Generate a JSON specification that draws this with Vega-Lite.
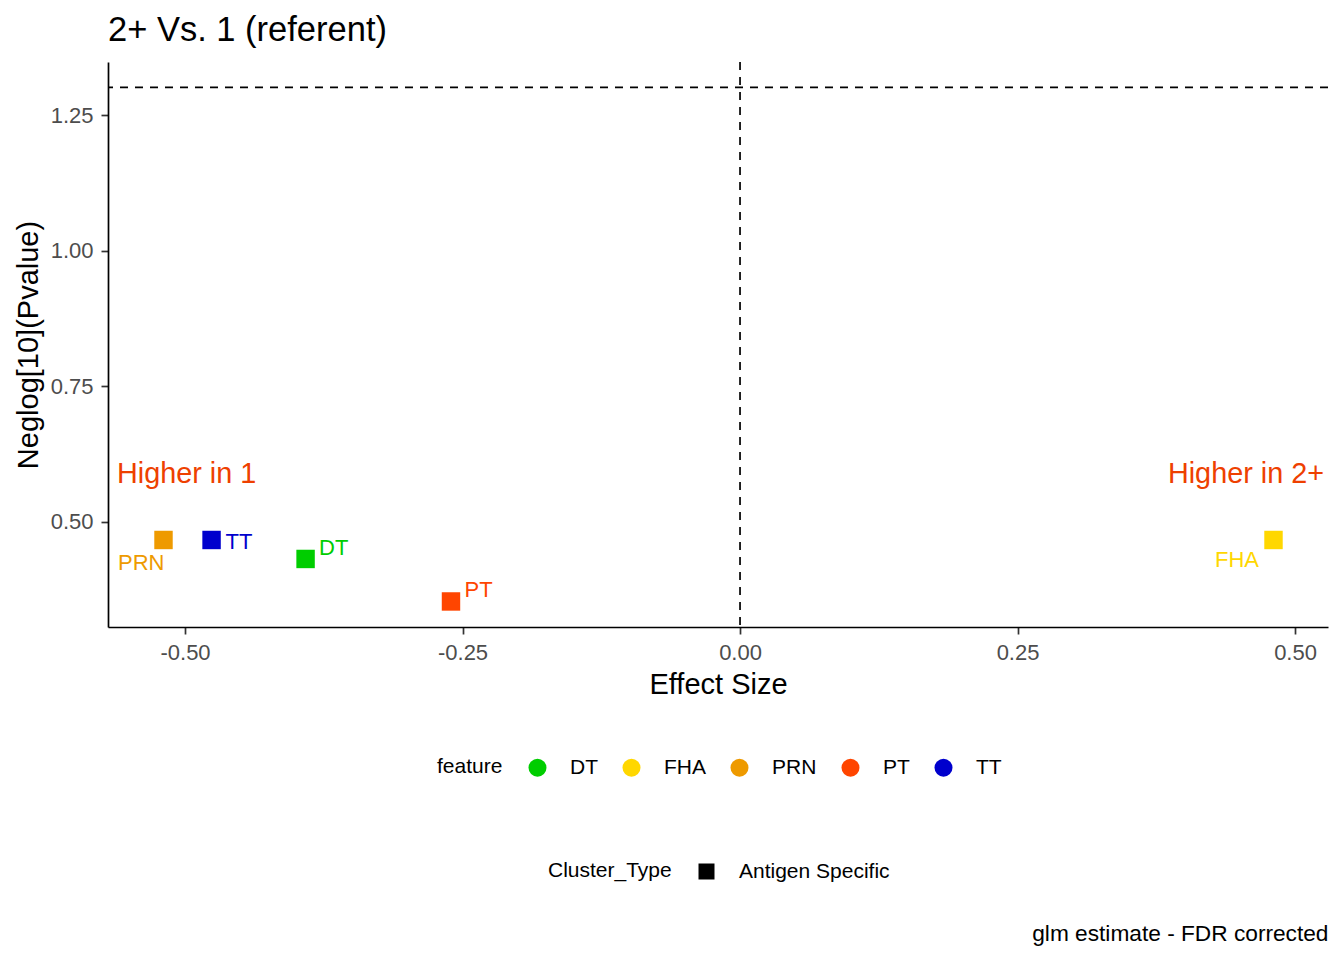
{
  "$schema": "https://vega.github.io/schema/vega-lite/v6.json",
  "autosize": {"type": "none"},
  "padding": {"left": 108, "top": 62, "right": 16, "bottom": 333},
  "width": 1220,
  "height": 565,
  "title": {
    "text": "2+ Vs. 1 (referent)",
    "anchor": "start",
    "frame": "group",
    "baseline": "alphabetic",
    "offset": -14,
    "fontSize": 34.5,
    "fontWeight": "normal",
    "color": "black",
    "font": "Liberation Sans"
  },
  "data": {
    "values": [
      {"feature": "DT", "effect": -0.3914, "neglogp": 0.4312, "Cluster_Type": "Antigen Specific"},
      {"feature": "FHA", "effect": 0.4806, "neglogp": 0.4662, "Cluster_Type": "Antigen Specific"},
      {"feature": "PRN", "effect": -0.5194, "neglogp": 0.4662, "Cluster_Type": "Antigen Specific"},
      {"feature": "PT", "effect": -0.2604, "neglogp": 0.3528, "Cluster_Type": "Antigen Specific"},
      {"feature": "TT", "effect": -0.4761, "neglogp": 0.4662, "Cluster_Type": "Antigen Specific"}
    ]
  },
  "resolve": {"axis": {"x": "independent"}},
  "layer": [
    {
      "data": {"values": [{"cutoff": 0}]},
      "mark": {"type": "rule", "color": "black", "strokeWidth": 1.7, "strokeDash": [8, 7]},
      "encoding": {
        "x": {
          "field": "cutoff",
          "type": "quantitative",
          "scale": {"domain": [-0.5694, 0.5297], "nice": false, "zero": false},
          "axis": {
            "orient": "bottom",
            "labels": false,
            "ticks": false,
            "domain": false,
            "title": "glm estimate - FDR corrected",
            "titleAnchor": "end",
            "titleAlign": "right",
            "titleBaseline": "alphabetic",
            "titleX": 1220,
            "titleY": 313,
            "titleFontSize": 22.7
          }
        }
      }
    },
    {
      "data": {"values": [{"cutoff": 1.30103}]},
      "mark": {"type": "rule", "color": "black", "strokeWidth": 1.7, "strokeDash": [8, 7]},
      "encoding": {
        "y": {
          "field": "cutoff",
          "type": "quantitative",
          "title": "Neglog[10](Pvalue)",
          "scale": {"domain": [0.3057, 1.3478], "nice": false, "zero": false}
        }
      }
    },
    {
      "mark": {"type": "point", "filled": true, "opacity": 1, "size": 340},
      "encoding": {
        "x": {
          "field": "effect",
          "type": "quantitative",
          "scale": {"domain": [-0.5694, 0.5297], "nice": false, "zero": false},
          "axis": {
            "orient": "bottom",
            "title": "Effect Size",
            "values": [-0.5, -0.25, 0, 0.25, 0.5],
            "labelExpr": "replace(format(datum.value, '.2f'), '\u2212', '-')",
            "labelPadding": 8,
            "titleBaseline": "alphabetic",
            "titleY": 66
          }
        },
        "y": {
          "field": "neglogp",
          "type": "quantitative",
          "title": "Neglog[10](Pvalue)",
          "scale": {"domain": [0.3057, 1.3478], "nice": false, "zero": false},
          "axis": {
            "values": [0.5, 0.75, 1.0, 1.25],
            "format": ".2f",
            "labelPadding": 8,
            "titleAngle": -90,
            "titleAlign": "center",
            "titleBaseline": "alphabetic",
            "titleX": -71,
            "titleY": 282.5
          }
        },
        "color": {
          "field": "feature",
          "type": "nominal",
          "scale": {
            "domain": ["DT", "FHA", "PRN", "PT", "TT"],
            "range": ["#00CD00", "#FFD700", "#EE9A00", "#FF4500", "#0000CD"]
          },
          "legend": {
            "title": "feature",
            "orient": "none",
            "legendX": 329,
            "legendY": 695,
            "direction": "horizontal",
            "symbolType": "circle",
            "symbolSize": 324,
            "symbolStrokeWidth": 0,
            "symbolOpacity": 1,
            "labelOffset": 22,
            "columnPadding": 23,
            "titlePadding": 24
          }
        },
        "shape": {
          "field": "Cluster_Type",
          "type": "nominal",
          "scale": {"domain": ["Antigen Specific"], "range": ["square"]},
          "legend": {
            "title": "Cluster_Type",
            "orient": "none",
            "legendX": 440,
            "legendY": 799,
            "direction": "horizontal",
            "symbolSize": 256,
            "symbolFillColor": "black",
            "symbolStrokeColor": "black",
            "symbolStrokeWidth": 0,
            "symbolOpacity": 1,
            "labelOffset": 22,
            "titlePadding": 24
          }
        }
      }
    },
    {
      "transform": [{"filter": "datum.feature === 'TT'"}],
      "mark": {"type": "text", "align": "left", "baseline": "middle", "dx": 14, "dy": 2, "fontSize": 22, "font": "Liberation Sans"},
      "encoding": {
        "x": {"field": "effect", "type": "quantitative", "axis": null},
        "y": {"field": "neglogp", "type": "quantitative", "title": "Neglog[10](Pvalue)"},
        "text": {"field": "feature"},
        "color": {"field": "feature", "type": "nominal", "legend": null}
      }
    },
    {
      "transform": [{"filter": "datum.feature === 'DT' || datum.feature === 'PT'"}],
      "mark": {"type": "text", "align": "left", "baseline": "middle", "dx": 13.5, "dy": -11, "fontSize": 22, "font": "Liberation Sans"},
      "encoding": {
        "x": {"field": "effect", "type": "quantitative", "axis": null},
        "y": {"field": "neglogp", "type": "quantitative", "title": "Neglog[10](Pvalue)"},
        "text": {"field": "feature"},
        "color": {"field": "feature", "type": "nominal", "legend": null}
      }
    },
    {
      "transform": [{"filter": "datum.feature === 'PRN'"}],
      "mark": {"type": "text", "align": "right", "baseline": "middle", "dx": 1, "dy": 23, "fontSize": 22, "font": "Liberation Sans"},
      "encoding": {
        "x": {"field": "effect", "type": "quantitative", "axis": null},
        "y": {"field": "neglogp", "type": "quantitative", "title": "Neglog[10](Pvalue)"},
        "text": {"field": "feature"},
        "color": {"field": "feature", "type": "nominal", "legend": null}
      }
    },
    {
      "transform": [{"filter": "datum.feature === 'FHA'"}],
      "mark": {"type": "text", "align": "right", "baseline": "middle", "dx": -14.5, "dy": 20, "fontSize": 22, "font": "Liberation Sans"},
      "encoding": {
        "x": {"field": "effect", "type": "quantitative", "axis": null},
        "y": {"field": "neglogp", "type": "quantitative", "title": "Neglog[10](Pvalue)"},
        "text": {"field": "feature"},
        "color": {"field": "feature", "type": "nominal", "legend": null}
      }
    },
    {
      "data": {"values": [{"note": "Higher in 1", "effect": -0.5613, "neglogp": 0.587}]},
      "mark": {"type": "text", "align": "left", "baseline": "middle", "fontSize": 28.8, "font": "Liberation Sans", "color": "#EE4000"},
      "encoding": {
        "x": {"field": "effect", "type": "quantitative", "axis": null},
        "y": {"field": "neglogp", "type": "quantitative", "title": "Neglog[10](Pvalue)"},
        "text": {"field": "note"}
      }
    },
    {
      "data": {"values": [{"note": "Higher in 2+", "effect": 0.5261, "neglogp": 0.587}]},
      "mark": {"type": "text", "align": "right", "baseline": "middle", "fontSize": 28.8, "font": "Liberation Sans", "color": "#EE4000"},
      "encoding": {
        "x": {"field": "effect", "type": "quantitative", "axis": null},
        "y": {"field": "neglogp", "type": "quantitative", "title": "Neglog[10](Pvalue)"},
        "text": {"field": "note"}
      }
    }
  ],
  "config": {
    "font": "Liberation Sans",
    "view": {"stroke": null},
    "axis": {
      "grid": false,
      "domainColor": "black",
      "domainWidth": 1.7,
      "tickColor": "#333333",
      "tickWidth": 1.7,
      "tickSize": 7,
      "labelFont": "Liberation Sans",
      "labelFontSize": 22,
      "labelColor": "#4D4D4D",
      "titleFont": "Liberation Sans",
      "titleFontSize": 29,
      "titleFontWeight": "normal",
      "titleColor": "black"
    },
    "legend": {
      "labelFont": "Liberation Sans",
      "labelFontSize": 21,
      "labelColor": "black",
      "titleFont": "Liberation Sans",
      "titleFontSize": 21,
      "titleFontWeight": "normal",
      "titleColor": "black",
      "titleOrient": "left",
      "titleAnchor": "middle",
      "titleBaseline": "middle"
    }
  }
}
